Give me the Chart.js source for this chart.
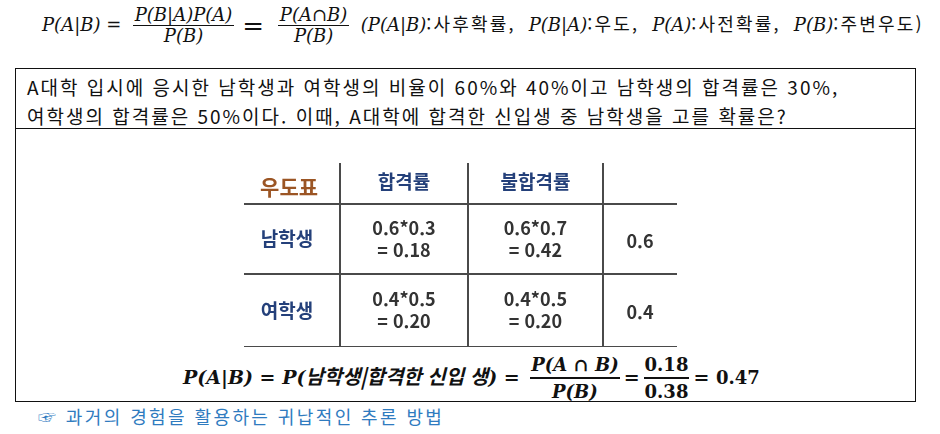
<!DOCTYPE html>
<html lang="ko">
<head>
<meta charset="utf-8">
<title>베이즈 정리 - 우도표</title>
<script src="https://cdn.jsdelivr.net/npm/chart.js@4.4.1/dist/chart.umd.min.js"></script>
<style>
  html, body { margin: 0; padding: 0; background: #fff; }
  body { width: 940px; height: 434px; position: relative; overflow: hidden;
         font-family: "Noto Sans CJK KR", "Noto Sans", sans-serif; color: #111; }
  .math { font-family: "DejaVu Serif", "Liberation Serif", serif; font-style: italic; }
  .frac { display: inline-flex; flex-direction: column; align-items: center; vertical-align: middle; }
  .frac .num { border-bottom: 1.6px solid #111; padding: 0 2px; line-height: 1.1; }
  .frac .den { line-height: 1.15; }
  #bayes { position: absolute; left: 42px; top: 5px; font-size: 18px; white-space: nowrap; }
  #bayes .eq { font-style: normal; font-size: 26px; margin: 0 8px; vertical-align: middle; }
  #bayes .ko { font-family: "Noto Sans CJK KR", sans-serif; font-style: normal; font-size: 18px; letter-spacing: 2.2px; }
  #bayes .gap { display: inline-block; width: 13px; }
  #box { position: absolute; left: 15px; top: 68px; width: 899px; height: 332px; border: 1.5px solid #111; }
  #question { height: 60px; border-bottom: 1.5px solid #111; padding: 3px 0 0 11px; box-sizing: border-box;
              font-size: 19px; letter-spacing: 2px; line-height: 29px; white-space: nowrap; }
  #table-wrap { position: absolute; left: 244px; top: 163px; width: 433px; height: 184px; }
  #posterior { position: absolute; left: 183px; top: 352px; font-size: 19px; font-weight: bold; white-space: nowrap; }
  #posterior .ko { font-family: "Noto Sans CJK KR", sans-serif; font-style: italic; font-size: 20px; }
  #posterior .n { font-family: "DejaVu Serif", serif; font-style: normal; font-size: 18px; }
  #posterior .frac { margin: 0 4px; }
  #posterior .frac .num { border-bottom: 2.4px solid #111; line-height: 1.4; padding: 0 1px; }
  #posterior .frac .den { line-height: 1.45; }
  #posterior .fr { font-size: 18px; }
  #note { position: absolute; left: 38px; top: 403px; font-size: 18px; letter-spacing: 2.4px; color: #2f7bbf; white-space: nowrap; }
</style>
</head>
<body>
<div id="bayes" class="math">P(A|B) =&nbsp;
  <span class="frac"><span class="num">P(B|A)P(A)</span><span class="den">P(B)</span></span><span class="eq">=</span>
  <span class="frac"><span class="num">P(A∩B)</span><span class="den">P(B)</span></span>
  &nbsp;<span>(P(A|B)</span><span class="ko">:사후확률,</span><span class="gap"></span>P(B|A)<span class="ko">:우도,</span><span class="gap"></span>P(A)<span class="ko">:사전확률,</span><span class="gap"></span>P(B)<span class="ko">:주변우도)</span>
</div>

<div id="box">
  <div id="question">A대학 입시에 응시한 남학생과 여학생의 비율이 60%와 40%이고 남학생의 합격률은 30%,<br>여학생의 합격률은 50%이다. 이때, A대학에 합격한 신입생 중 남학생을 고를 확률은?</div>
</div>

<div id="table-wrap"><canvas id="likelihood"></canvas></div>

<div id="posterior" class="math">P(A|B) = P(<span class="ko">남학생|합격한 신입 생</span>) =
  <span class="frac fr"><span class="num">P(A ∩ B)</span><span class="den">P(B)</span></span>=<span class="frac n"><span class="num">0.18</span><span class="den">0.38</span></span>= <span class="n">0.47</span>
</div>

<div id="note">☞ 과거의 경험을 활용하는 귀납적인 추론 방법</div>

<script>
// table content
const corner = "우도표";
const colHeaders = ["합격률", "불합격률", ""];
const rowLabels = ["남학생", "여학생"];
const cellFormulas = [["0.6*0.3", "0.6*0.7"], ["0.4*0.5", "0.4*0.5"]];
const cellValues = [["0.18", "0.42"], ["0.20", "0.20"]];
const rowTotals = ["0.6", "0.4"];

// layout: column / row boundaries as fractions of the table box
const COL_EDGES = [0, 0.222, 0.517, 0.829, 1];
const ROW_EDGES = [0, 0.224, 0.601, 1];

const mid = (edges, i) => (edges[i] + edges[i + 1]) / 2;

const cellText = {
  id: "cellText",
  afterDraw(chart) {
    const { ctx, scales: { x, y } } = chart;
    ctx.save();
    ctx.textAlign = "center";
    ctx.textBaseline = "middle";

    // header row
    ctx.font = "bold 21px 'Noto Sans CJK KR'";
    ctx.fillStyle = "#9b5524";
    ctx.fillText(corner, x.getPixelForValue(mid(COL_EDGES, 0)) - 3, y.getPixelForValue(mid(ROW_EDGES, 0)) + 3);
    ctx.font = "bold 19px 'Noto Sans CJK KR'";
    ctx.fillStyle = "#24407a";
    colHeaders.forEach((h, c) => {
      ctx.fillText(h, x.getPixelForValue(mid(COL_EDGES, c + 1)), y.getPixelForValue(mid(ROW_EDGES, 0)) - 2);
    });

    rowLabels.forEach((label, r) => {
      const cy = y.getPixelForValue(mid(ROW_EDGES, r + 1));
      ctx.font = "bold 19px 'Noto Sans CJK KR'";
      ctx.fillStyle = "#24407a";
      ctx.fillText(label, x.getPixelForValue(mid(COL_EDGES, 0)) - 5, cy);

      ctx.fillStyle = "#333";
      ctx.font = "bold 18px 'Noto Sans CJK KR'";
      cellFormulas[r].forEach((f, c) => {
        const cx = x.getPixelForValue(mid(COL_EDGES, c + 1));
        ctx.fillText(f, cx, cy - 11);
        ctx.fillText("= " + cellValues[r][c], cx, cy + 11);
      });
      ctx.fillText(rowTotals[r], x.getPixelForValue(mid(COL_EDGES, 3)), cy + 2);
    });
    ctx.restore();
  },
};

new Chart(document.getElementById("likelihood").getContext("2d"), {
  type: "scatter",
  data: { datasets: [] },
  options: {
    responsive: true,
    maintainAspectRatio: false,
    animation: false,
    layout: { padding: 0 },
    plugins: { legend: { display: false }, tooltip: { enabled: false } },
    scales: {
      x: {
        type: "linear",
        min: 0,
        max: 1,
        afterBuildTicks: (s) => { s.ticks = COL_EDGES.slice(1, -1).map((v) => ({ value: v })); },
        ticks: { display: false },
        border: { display: false },
        grid: { color: "#4a4a4a", lineWidth: 2, drawTicks: false, tickLength: 0 },
      },
      y: {
        type: "linear",
        reverse: true,
        min: 0,
        max: 1,
        afterBuildTicks: (s) => { s.ticks = ROW_EDGES.slice(1).map((v) => ({ value: v })); },
        ticks: { display: false },
        border: { display: false },
        grid: { color: "#4a4a4a", lineWidth: 2, drawTicks: false, tickLength: 0 },
      },
    },
  },
  plugins: [cellText],
});
</script>
</body>
</html>
